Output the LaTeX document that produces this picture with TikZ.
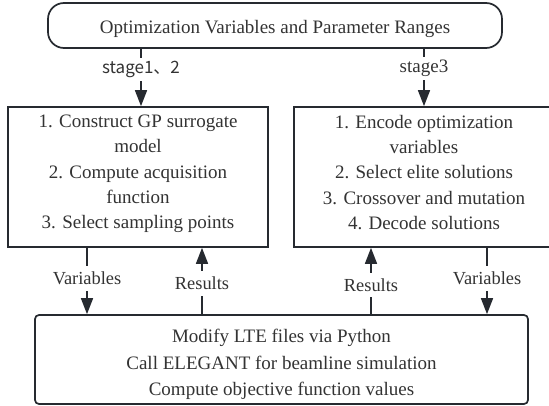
\documentclass[tikz,border=0pt]{standalone}
\usepackage{fontspec}
\setmainfont{Liberation Serif}
\newfontfamily\cjkfont{Noto Sans CJK SC}
\usetikzlibrary{arrows.meta}
\definecolor{ln}{RGB}{38,42,48}
\definecolor{tx}{RGB}{51,51,51}
\begin{document}
\begin{tikzpicture}[x=1pt,y=-1pt,
  box/.style={draw=ln,line width=1.7pt,inner sep=0pt},
  txt/.style={text=tx,align=center,inner sep=0pt,font=\fontsize{19}{25.3}\selectfont},
  arr/.style={draw=ln,line width=1.6pt,-{Triangle[length=16pt,width=12pt]}},
  lab/.style={fill=white,text=tx,inner xsep=2pt,inner ysep=6pt,
    font=\fontsize{18.4}{20}\selectfont},
  stagelab/.style={fill=white,text=tx,inner xsep=2pt,inner ysep=3pt}]
\useasboundingbox (0,0) rectangle (549,406);
\clip (0,0) rectangle (549,406);
\fill[white] (0,0) rectangle (549,406);

\node[box,rounded corners=16pt,minimum width=454pt,minimum height=45pt] (top) at (275,25.5) {};
\node[txt] (toptxt) at (275,29) {Optimization Variables and Parameter Ranges};
\node[box,minimum width=260pt,minimum height=140pt] (left) at (138,177) {};
\node[txt] (lefttxt) at (138,174)
  {1. Construct GP surrogate\\model\\2. Compute acquisition\\function\\3. Select sampling points};
\node[box,minimum width=260pt,minimum height=140pt] (right) at (424,177) {};
\node[txt] (righttxt) at (424,172.5)
  {1. Encode optimization\\variables\\2. Select elite solutions\\3. Crossover and mutation\\4. Decode solutions};
\node[box,rounded corners=4pt,minimum width=493pt,minimum height=89pt] (bottom) at (281.5,359.5) {};
\node[txt,font=\fontsize{19}{26.5}\selectfont] (bottomtxt) at (281.5,364.5)
  {Modify LTE files via Python\\Call ELEGANT for beamline simulation\\Compute objective function values};

\coordinate (c1) at (141,0);
\coordinate (c2) at (424,0);
\coordinate (v1) at (87,0);
\coordinate (r1) at (202,0);
\coordinate (r2) at (371,0);
\coordinate (v2) at (487,0);

\draw[arr] (top.south -| c1) -- node[stagelab,pos=0.36,font=\cjkfont\fontsize{17}{20}\selectfont] {stage1、2} (left.north -| c1);
\draw[arr] (top.south -| c2) -- node[stagelab,pos=0.34,font=\fontsize{19}{20}\selectfont] {stage3} (right.north -| c2);
\draw[arr] (left.south -| v1) -- node[lab,pos=0.46] {Variables} (bottom.north -| v1);
\draw[arr] (bottom.north -| r1) -- node[lab,pos=0.46] {Results} (left.south -| r1);
\draw[arr] (bottom.north -| r2) -- node[lab,pos=0.44] {Results} (right.south -| r2);
\draw[arr] (right.south -| v2) -- node[lab,pos=0.46] {Variables} (bottom.north -| v2);
\end{tikzpicture}
\end{document}
